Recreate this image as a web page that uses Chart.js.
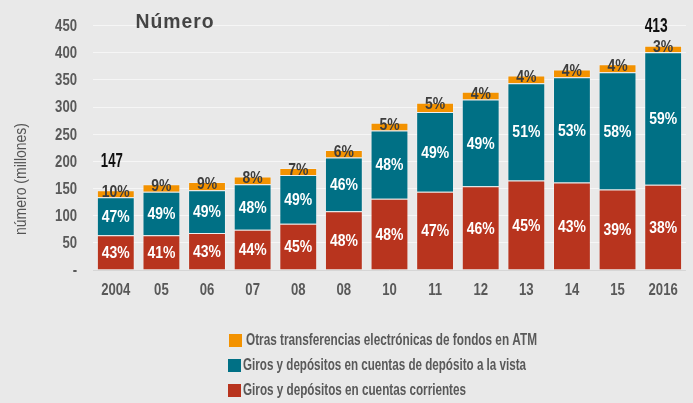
<!DOCTYPE html>
<html>
<head>
<meta charset="utf-8">
<script src="https://cdn.jsdelivr.net/npm/chart.js@4"></script>
<style>
  html, body { margin: 0; padding: 0; background: #e9e9e9; }
  #wrap { width: 693px; height: 403px; }
</style>
</head>
<body>
<div id="wrap"><canvas id="c" width="693" height="403"></canvas></div>
<script>
// Data (millones)
const categories = ['2004', '05', '06', '07', '08', '08', '10', '11', '12', '13', '14', '15', '2016'];
const corrientes = [64, 64, 68, 74, 85, 108, 131, 144, 154, 165, 161, 148, 157];
const vista      = [70, 80, 79, 84, 90, 99, 126, 147, 160, 179, 194, 216, 244];
const otras      = [13, 14, 15, 14, 13, 14, 14, 17, 14, 14, 14, 15, 12];

// Shares printed on each segment
const pctCorrientes = [43, 41, 43, 44, 45, 48, 48, 47, 46, 45, 43, 39, 38];
const pctVista      = [47, 49, 49, 48, 49, 46, 48, 49, 49, 51, 53, 58, 59];
const pctOtras      = [10, 9, 9, 8, 7, 6, 5, 5, 4, 4, 4, 4, 3];

const yTicks = [0, 50, 100, 150, 200, 250, 300, 350, 400, 450];

// no condensed face installed: squeeze Liberation Sans sideways instead
const FONT = "'Liberation Sans', Arial, sans-serif";
const NARROW = 0.82;
const RED = '#b8341e', TEAL = '#007085', ORANGE = '#f39200';

// draw text squeezed by sx (or fitted to a width when fit is given)
function squeezed(ctx, str, x, y, font, sx, fit) {
  ctx.save();
  ctx.font = font;
  if (fit) sx = fit / ctx.measureText(str).width;
  ctx.translate(x, y);
  ctx.scale(sx, 1);
  ctx.fillText(str, 0, 0);
  ctx.restore();
}

const extras = {
  id: 'extras',
  afterDatasetsDraw(chart) {
    const ctx = chart.ctx;
    const pcts = [pctCorrientes, pctVista, pctOtras];
    ctx.save();
    ctx.textBaseline = 'middle';

    // axis labels from the library's scales
    const xs = chart.scales.x, ys = chart.scales.y;
    ctx.fillStyle = '#595959';
    ctx.textAlign = 'center';
    xs.ticks.forEach((t, i) => {
      squeezed(ctx, String(t.label), xs.getPixelForTick(i), 291, 'bold 16px ' + FONT, NARROW);
    });
    ctx.textAlign = 'right';
    ys.ticks.forEach((t, i) => {
      squeezed(ctx, String(t.label), 77, ys.getPixelForTick(i) + 1, 'bold 16px ' + FONT, NARROW);
    });

    // segment shares
    ctx.textAlign = 'center';
    chart.data.datasets.forEach((ds, di) => {
      chart.getDatasetMeta(di).data.forEach((el, i) => {
        const txt = pcts[di][i] + '%';
        if (di === 2) {
          ctx.fillStyle = '#3d3d3d';
          squeezed(ctx, txt, el.x, el.y + 2, 'bold 17px ' + FONT, NARROW);
        } else {
          ctx.fillStyle = '#ffffff';
          squeezed(ctx, txt, el.x, (el.y + el.base) / 2 + 1, 'bold 17px ' + FONT, NARROW);
        }
      });
    });

    // totals over first and last bar
    const top = chart.getDatasetMeta(2).data;
    const last = categories.length - 1;
    const tot = i => corrientes[i] + vista[i] + otras[i];
    ctx.fillStyle = '#111111';
    squeezed(ctx, String(tot(0)), top[0].x - 4, top[0].y - 29, 'bold 20px ' + FONT, 1, 22);
    squeezed(ctx, String(tot(last)), top[last].x - 7, top[last].y - 19, 'bold 20px ' + FONT, 1, 23);

    // title
    ctx.fillStyle = '#444444';
    ctx.letterSpacing = '1px';
    squeezed(ctx, 'Número', 175, 22, 'bold 20px ' + FONT, 1, 79);
    ctx.letterSpacing = '0px';

    // y title
    ctx.save();
    ctx.translate(21, 179);
    ctx.rotate(-Math.PI / 2);
    ctx.fillStyle = '#555555';
    squeezed(ctx, 'número (millones)', 0, 0, '17px ' + FONT, 1, 112);
    ctx.restore();

    // legend, top to bottom
    const items = [2, 1, 0];
    const widths = [291, 283, 223];
    const textX = [246, 243, 243];
    ctx.textAlign = 'left';
    items.forEach((di, k) => {
      const ds = chart.data.datasets[di];
      const y = 334 + k * 25;
      ctx.fillStyle = ds.backgroundColor;
      ctx.fillRect(k === 0 ? 229 : 228, y, 13, 13);
      ctx.fillStyle = '#595959';
      squeezed(ctx, ds.label, textX[k], y + 7, 'bold 16px ' + FONT, 1, widths[k]);
    });
    ctx.restore();
  }
};

new Chart(document.getElementById('c'), {
  type: 'bar',
  data: {
    labels: categories,
    datasets: [
      { label: 'Giros y depósitos en cuentas corrientes', data: corrientes, backgroundColor: RED },
      { label: 'Giros y depósitos en cuentas de depósito a la vista', data: vista, backgroundColor: TEAL },
      { label: 'Otras transferencias electrónicas de fondos en ATM', data: otras, backgroundColor: ORANGE }
    ]
  },
  options: {
    responsive: false,
    animation: false,
    devicePixelRatio: 1,
    layout: { padding: { top: 22, right: 1, bottom: 103, left: 0 } },
    datasets: {
      bar: {
        barPercentage: 0.83,
        categoryPercentage: 1,
        borderWidth: { top: 1, left: 1, right: 1, bottom: 0 },
        borderColor: 'rgba(255,255,255,0.25)'
      }
    },
    plugins: { legend: { display: false }, tooltip: { enabled: false } },
    scales: {
      x: {
        stacked: true,
        grid: { display: false, drawTicks: false },
        border: { display: false },
        ticks: { color: 'transparent', padding: 12, font: { family: FONT, size: 16, weight: 'bold' } },
        afterFit(s) { s.height = 30; }
      },
      y: {
        stacked: true,
        min: 0,
        max: 450,
        afterBuildTicks(s) { s.ticks = yTicks.map(v => ({ value: v })); },
        grid: {
          drawTicks: false,
          color: c => c.tick && c.tick.value === 0 ? '#d6d6d6' : '#f6f6f6'
        },
        border: { display: false },
        ticks: {
          color: 'transparent',
          padding: 16,
          font: { family: FONT, size: 16, weight: 'bold' },
          callback: v => v === 0 ? '-' : v
        },
        afterFit(s) { s.width = 93; }
      }
    }
  },
  plugins: [extras]
});
</script>
</body>
</html>
